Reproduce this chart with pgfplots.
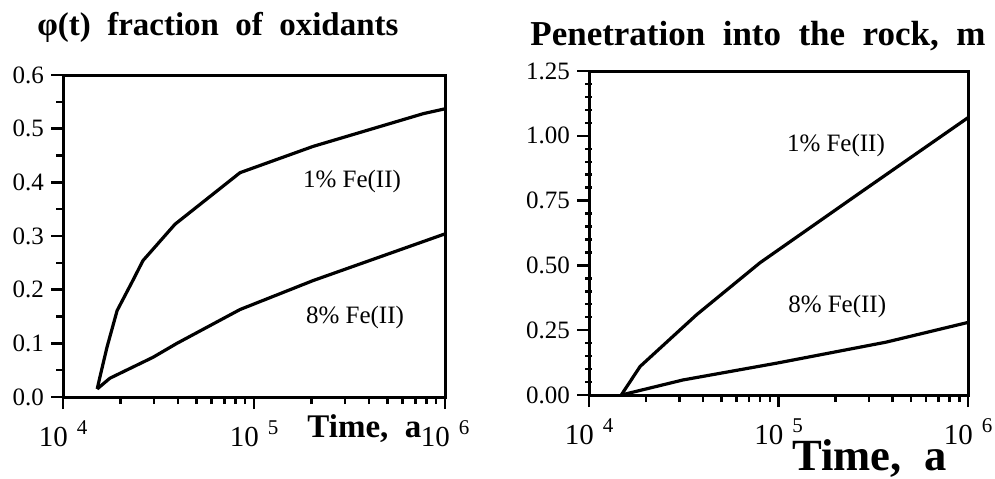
\documentclass[border=0pt]{standalone}
\usepackage{pgfplots}
\pgfplotsset{compat=1.18}
\usepackage{fontspec}
\setmainfont{Liberation Serif}
\newcommand{\xl}[1]{10\hspace{4.5pt}\raisebox{6pt}{\fontsize{10.5}{10.5}\selectfont #1}}
\pgfplotsset{
  panel/.style={
    scale only axis, anchor=south west,
    xtick={1e4,1e5,1e6},
    xticklabels={\xl{4},\xl{5},\xl{6}},
    tick pos=left, tick align=outside,
    major tick length=6pt, minor tick length=3.5pt,
    axis line style={line width=1.5pt},
    every tick/.style={line width=1.2pt, black},
    xticklabel style={font=\fontsize{14.5}{14.5}\selectfont, anchor=north, inner sep=2pt, yshift=-3.5pt},
    yticklabel style={font=\fontsize{12.5}{12.5}\selectfont},
    clip=false,
  },
  crv/.style={black, line width=1.6pt, no marks, line join=round},
}
\begin{document}
\begin{tikzpicture}[x=1pt,y=1pt]
\path[use as bounding box] (0,0) rectangle (497.5,239);
\begin{axis}[xmode=log, xmin=1e4, xmax=1e6, panel, at={(31.5pt,40.5pt)}, width=191pt, height=161pt,
  ymin=0, ymax=0.6,
  ytick={0,0.1,0.2,0.3,0.4,0.5,0.6},
  yticklabels={0.0,0.1,0.2,0.3,0.4,0.5,0.6},
  minor y tick num=1]
\addplot[crv] coordinates {
 (1.51e4,0.015) (1.56e4,0.037) (1.7e4,0.093) (1.92e4,0.161) (2.32e4,0.217)
 (2.62e4,0.254) (3.86e4,0.322) (8.45e4,0.418) (2.04e5,0.467) (7.7e5,0.528) (1e6,0.537)};
\addplot[crv] coordinates {
 (1.51e4,0.015) (1.76e4,0.035) (2.96e4,0.074) (3.95e4,0.100) (8.45e4,0.163) (2.04e5,0.217) (1e6,0.304)};
\node[font=\fontsize{12.5}{12.5}\selectfont] at (axis cs:3.26e5,0.402) {1\% Fe(II)};
\node[font=\fontsize{12.5}{12.5}\selectfont] at (axis cs:3.38e5,0.148) {8\% Fe(II)};
\end{axis}
\begin{axis}[xmode=log, xmin=1e4, xmax=1e6, panel, at={(294.5pt,41.5pt)}, width=189.5pt, height=162pt,
  ymin=0, ymax=1.25,
  ytick={0,0.25,0.5,0.75,1.0,1.25},
  yticklabels={0.00,0.25,0.50,0.75,1.00,1.25},
  minor y tick num=4,
  minor y tick style={yshift=0pt, xshift=1.5pt}]
\addplot[crv] coordinates {
 (1.48e4,0.0) (1.86e4,0.11) (3.7e4,0.31) (7.98e4,0.51) (2.69e5,0.78) (1e6,1.07)};
\addplot[crv] coordinates {
 (1.48e4,0.0) (3.13e4,0.058) (9.8e4,0.123) (3.7e5,0.204) (1e6,0.28)};
\node[font=\fontsize{12.5}{12.5}\selectfont] at (axis cs:2.01e5,0.961) {1\% Fe(II)};
\node[font=\fontsize{12.5}{12.5}\selectfont] at (axis cs:2.04e5,0.343) {8\% Fe(II)};
\end{axis}
\node[anchor=base west, inner sep=0] at (18.5,221.5) {\resizebox{180.5pt}{!}{\bfseries\fontsize{17}{17}\selectfont φ(t)\ \ fraction\ \ of\ \ oxidants}};
\node[anchor=base west, inner sep=0] at (265,216.5) {\resizebox{227.5pt}{!}{\bfseries\fontsize{17}{17}\selectfont Penetration\ \ into\ \ the\ \ rock,\ \ m}};
\node[anchor=base west, inner sep=0] at (153.5,20.5) {\resizebox{57pt}{!}{\bfseries\fontsize{15}{15}\selectfont Time,\ \ a}};
\node[anchor=base west, inner sep=0] at (396,4) {\resizebox{77pt}{!}{\bfseries\fontsize{20}{20}\selectfont Time,\ \ a}};
\end{tikzpicture}
\end{document}
